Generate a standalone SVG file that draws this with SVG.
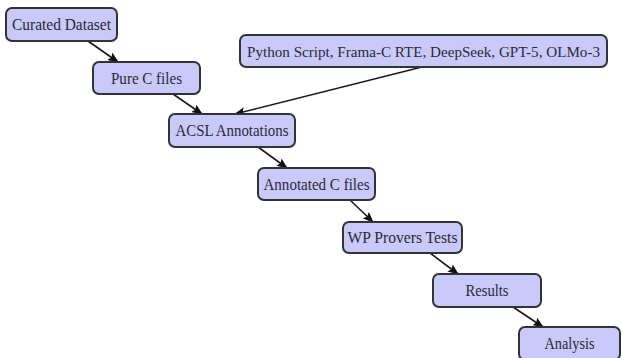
<svg xmlns="http://www.w3.org/2000/svg" width="622" height="358" viewBox="0 0 622 358">
<style>
.box{fill:#c9c9fa;stroke:#333;stroke-width:2}
.lbl{font-family:"Liberation Serif","DejaVu Serif",serif;font-size:17px;fill:#2a2a3a;text-anchor:middle}
.edge{stroke:#1a1a1a;stroke-width:1.6;fill:none;marker-end:url(#ah)}
</style>
<defs>
<marker id="ah" markerWidth="11" markerHeight="9" refX="10" refY="4.5" orient="auto" markerUnits="userSpaceOnUse">
<path d="M0,0 L11,4.5 L0,9 L2,4.5 Z" fill="#111"/>
</marker>
</defs>
<rect width="622" height="358" fill="#fff"/>
<g id="edges">
<line class="edge" x1="88" y1="41" x2="118" y2="62"/>
<line class="edge" x1="173" y1="94" x2="202" y2="114"/>
<line class="edge" x1="422" y1="67" x2="235" y2="114"/>
<line class="edge" x1="258" y1="147" x2="287" y2="168"/>
<line class="edge" x1="350" y1="200" x2="373" y2="222"/>
<line class="edge" x1="430" y1="253" x2="458" y2="274"/>
<line class="edge" x1="513" y1="307" x2="543" y2="327"/>
</g>
<g id="curated"><rect class="box" x="6" y="8" width="111" height="33" rx="6"/><text class="lbl" x="61.5" y="30" textLength="99" lengthAdjust="spacingAndGlyphs">Curated Dataset</text></g>
<g id="pure"><rect class="box" x="93" y="62" width="107" height="32" rx="6"/><text class="lbl" x="146.5" y="84" textLength="71" lengthAdjust="spacingAndGlyphs">Pure C files</text></g>
<g id="tools"><rect class="box" x="240" y="35" width="367" height="32" rx="6"/><text class="lbl" x="423.5" y="56.5" style="font-size:15.5px" textLength="353" lengthAdjust="spacingAndGlyphs">Python Script, Frama-C RTE, DeepSeek, GPT-5, OLMo-3</text></g>
<g id="acsl"><rect class="box" x="169" y="114" width="126" height="33" rx="6"/><text class="lbl" x="232" y="136" textLength="113" lengthAdjust="spacingAndGlyphs">ACSL Annotations</text></g>
<g id="annotated"><rect class="box" x="258" y="168" width="117" height="32" rx="6"/><text class="lbl" x="316.5" y="190" textLength="106" lengthAdjust="spacingAndGlyphs">Annotated C files</text></g>
<g id="wp"><rect class="box" x="343" y="222" width="119" height="31" rx="6"/><text class="lbl" x="402.5" y="243" textLength="110" lengthAdjust="spacingAndGlyphs">WP Provers Tests</text></g>
<g id="results"><rect class="box" x="433" y="274" width="108" height="33" rx="6"/><text class="lbl" x="487" y="296" textLength="43" lengthAdjust="spacingAndGlyphs">Results</text></g>
<g id="analysis"><rect class="box" x="519" y="327" width="101" height="33" rx="6"/><text class="lbl" x="569.5" y="349" textLength="50" lengthAdjust="spacingAndGlyphs">Analysis</text></g>
</svg>
